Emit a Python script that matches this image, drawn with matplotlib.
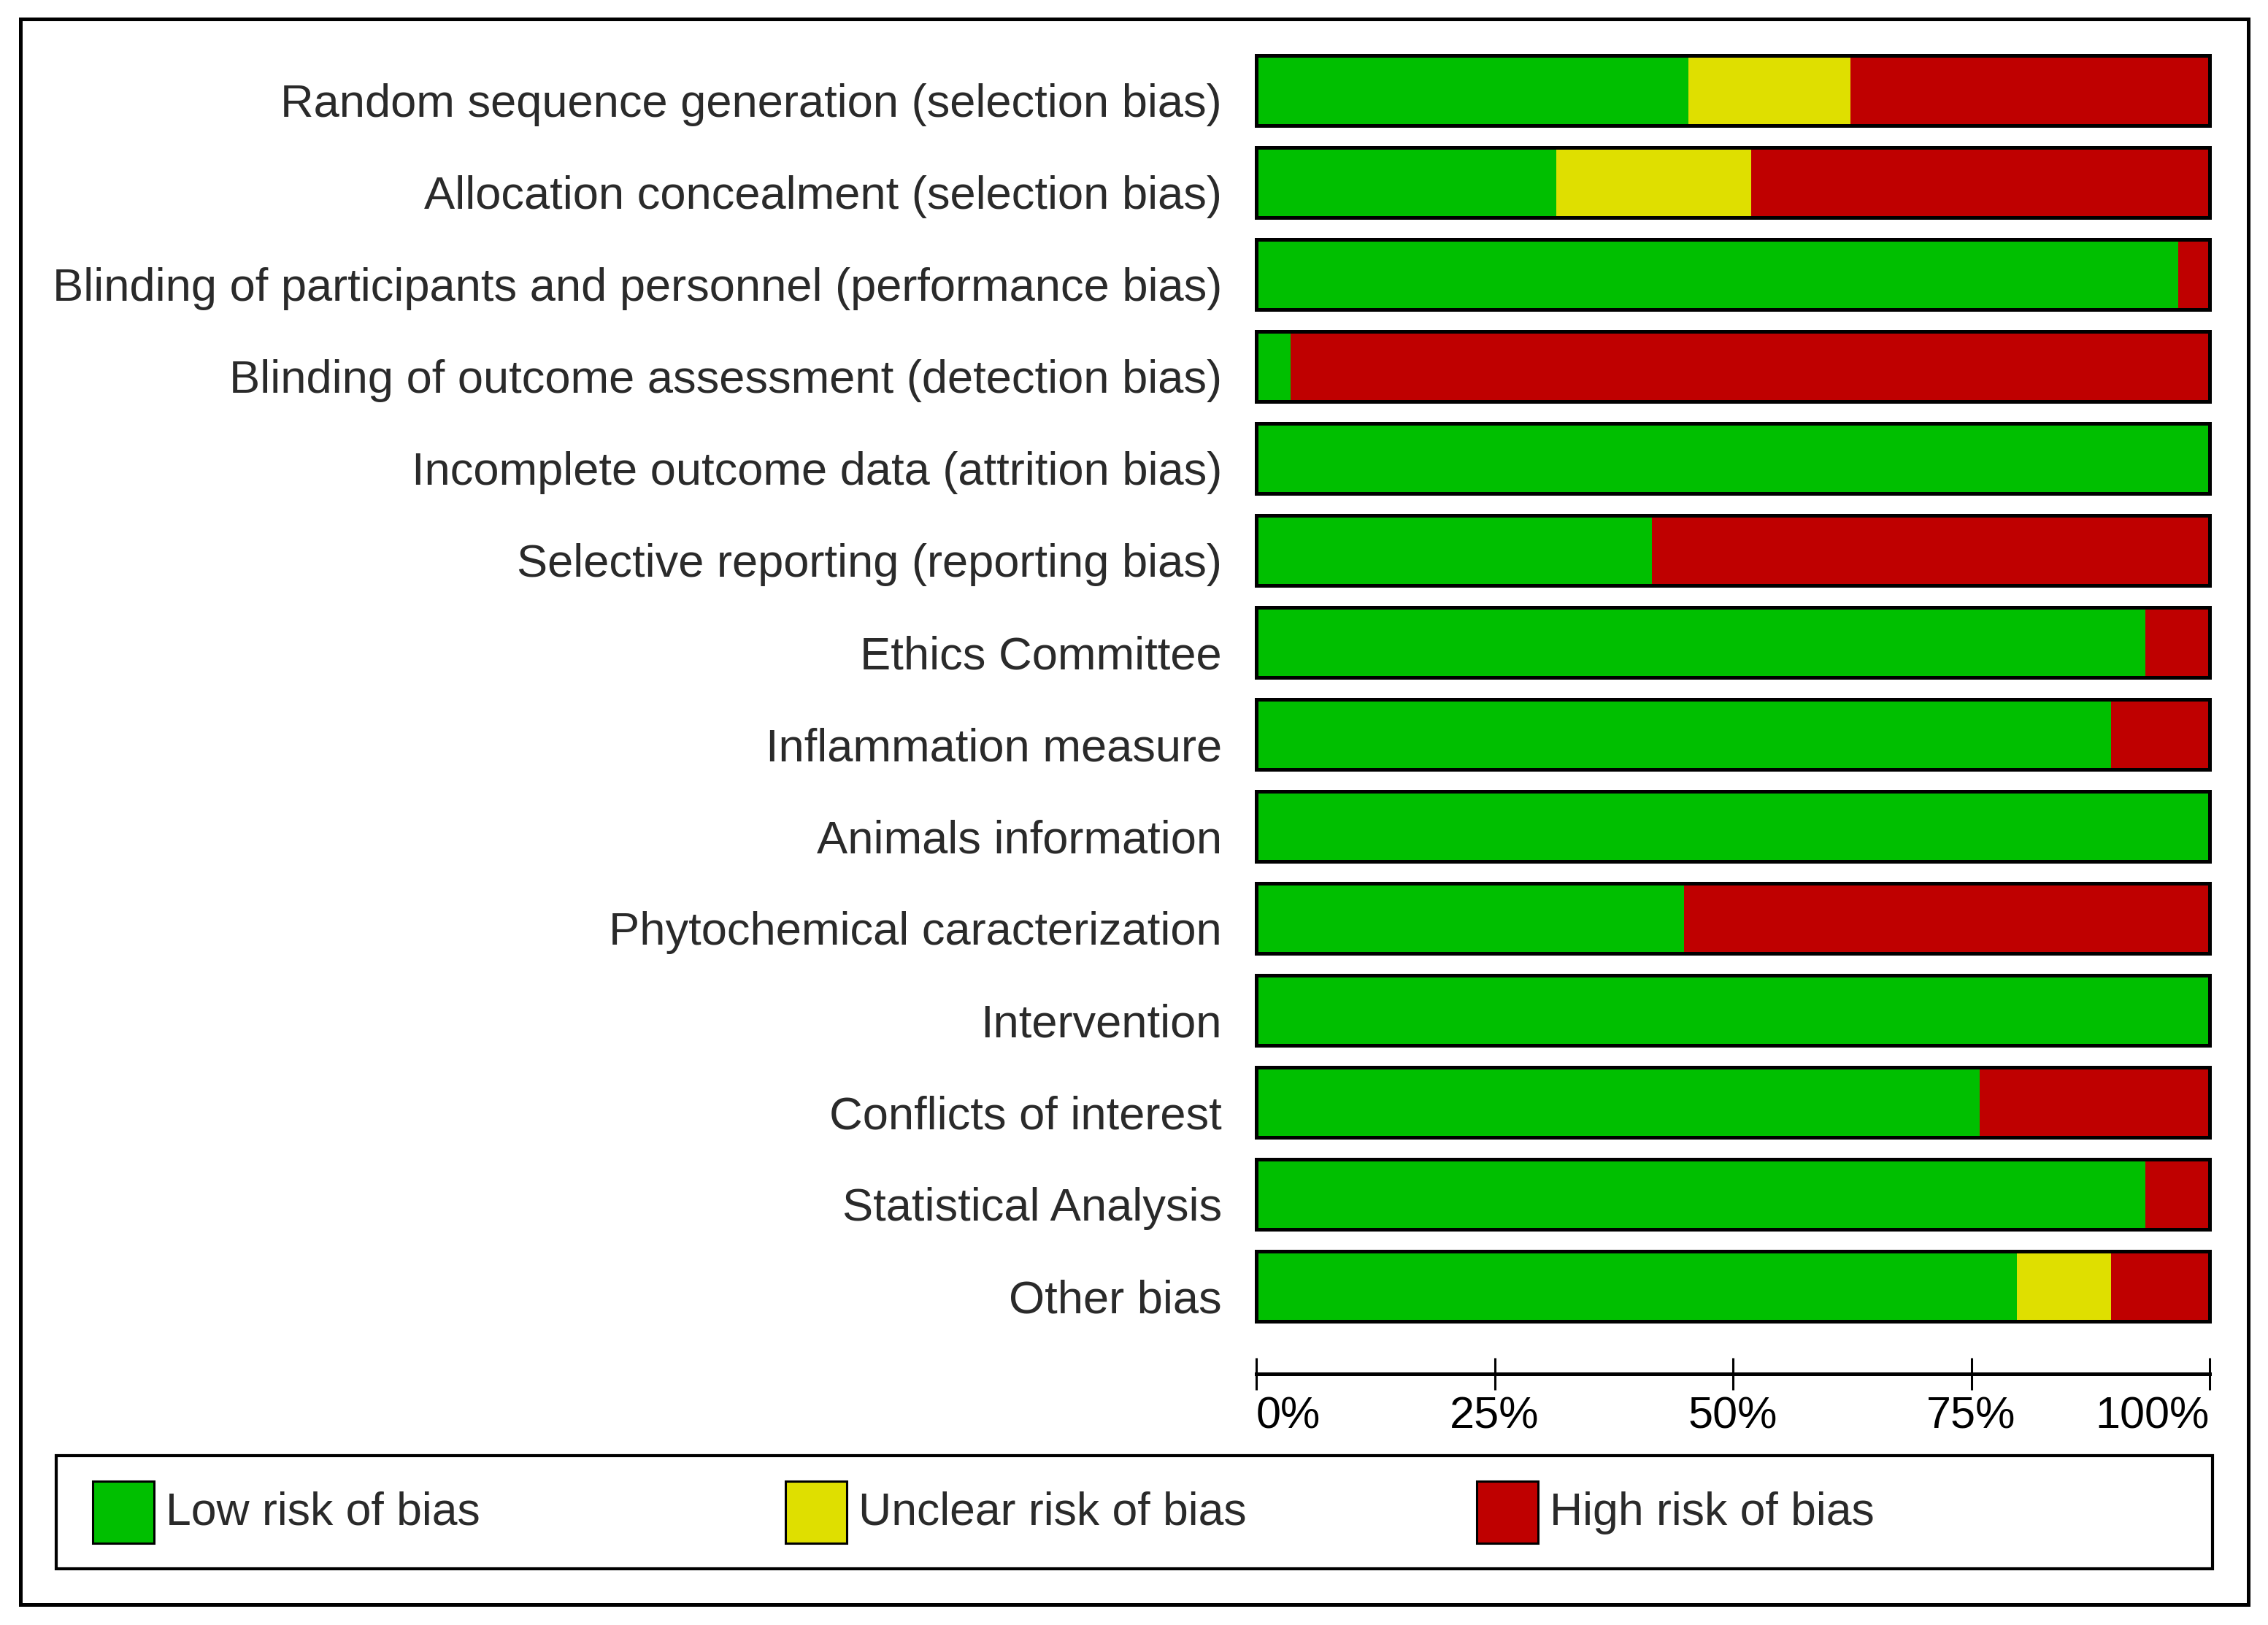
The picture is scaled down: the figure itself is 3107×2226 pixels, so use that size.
import numpy as np
import matplotlib.pyplot as plt
from matplotlib.patches import Rectangle
from matplotlib.transforms import ScaledTranslation

plt.rcParams['font.family'] = ['Liberation Sans', 'DejaVu Sans']

# risk of bias domains (top to bottom)
domains = [
    "Random sequence generation (selection bias)",
    "Allocation concealment (selection bias)",
    "Blinding of participants and personnel (performance bias)",
    "Blinding of outcome assessment (detection bias)",
    "Incomplete outcome data (attrition bias)",
    "Selective reporting (reporting bias)",
    "Ethics Committee",
    "Inflammation measure",
    "Animals information",
    "Phytochemical caracterization",
    "Intervention",
    "Conflicts of interest",
    "Statistical Analysis",
    "Other bias",
]

# percentages
low = np.array([45.3, 31.5, 96.7, 3.6, 100, 41.5, 93.3, 89.7, 100, 44.9, 100, 75.9, 93.3, 79.8])
unclear = np.array([17.0, 20.4, 0, 0, 0, 0, 0, 0, 0, 0, 0, 0, 0, 9.9])
high = 100 - low - unclear

ticks = [0, 25, 50, 75, 100]
tick_labels = ["0%", "25%", "50%", "75%", "100%"]

legend_labels = ["Low risk of bias", "Unclear risk of bias", "High risk of bias"]
colors = ["#00bf00", "#dfdf00", "#bf0000"]

W, H = 3107, 2226
fig = plt.figure(figsize=(W / 100, H / 100), dpi=100)

def rect(x0, y0, x1, y1):
    # pixel box (top-left origin) -> figure fraction
    return [x0 / W, 1 - y1 / H, (x1 - x0) / W, (y1 - y0) / H]

x0, x1 = 1721, 3027
ax = fig.add_axes(rect(x0, 61, x1, 1825))
y = np.arange(len(domains))
bh = 0.754
ax.barh(y, low, height=bh, color=colors[0], lw=0)
ax.barh(y, unclear, left=low, height=bh, color=colors[1], lw=0)
ax.barh(y, high, left=low + unclear, height=bh, color=colors[2], lw=0)
ax.barh(y, low + unclear + high, height=bh, fill=False, edgecolor="black",
        linewidth=3.6, clip_on=False)
ax.set_xlim(0, 100)
ax.set_ylim(len(domains) - 0.5, -0.5)
ax.set_xticks([])
ax.set_yticks(y)
ax.set_yticklabels(domains, fontsize=45.5, color="#2a2a2a")
ax.tick_params(axis="y", length=0, pad=34)
shift = ScaledTranslation(0, -0.13, fig.dpi_scale_trans)
for t in ax.get_yticklabels():
    t.set_transform(t.get_transform() + shift)
for s in ax.spines.values():
    s.set_visible(False)

# percentage scale
ax2 = fig.add_axes(rect(x0, 1881, x1, 1882))
ax2.set_xlim(0, 100)
ax2.set_yticks([])
for s in ["left", "right", "top"]:
    ax2.spines[s].set_visible(False)
ax2.spines["bottom"].set_linewidth(3.6)
ax2.set_xticks(ticks)
ax2.set_xticklabels(tick_labels, fontsize=44)
ax2.tick_params(axis="x", direction="inout", length=32, width=2.2, pad=6)
lbls = ax2.get_xticklabels()
lbls[0].set_ha("left")
lbls[-1].set_ha("right")
ax2.patch.set_visible(False)

# legend box
r = rect(77, 1994, 3031, 2149)
fig.patches.append(Rectangle(r[:2], r[2], r[3], transform=fig.transFigure,
                             fill=False, edgecolor="black", lw=3))
for lx, lab, c in zip([127, 1076, 2023], legend_labels, colors):
    r = rect(lx, 2029, lx + 84, 2114)
    fig.patches.append(Rectangle(r[:2], r[2], r[3], transform=fig.transFigure,
                                 facecolor=c, edgecolor="black", lw=2.2))
    fig.text((lx + 100) / W, 1 - 2072 / H, lab, fontsize=45, color="#2a2a2a", va="center")

# outer frame
r = rect(28, 26, 3080, 2198)
fig.patches.append(Rectangle(r[:2], r[2], r[3], transform=fig.transFigure,
                             fill=False, edgecolor="black", lw=3.6))

fig.savefig("out.png", dpi=100, facecolor="white")
